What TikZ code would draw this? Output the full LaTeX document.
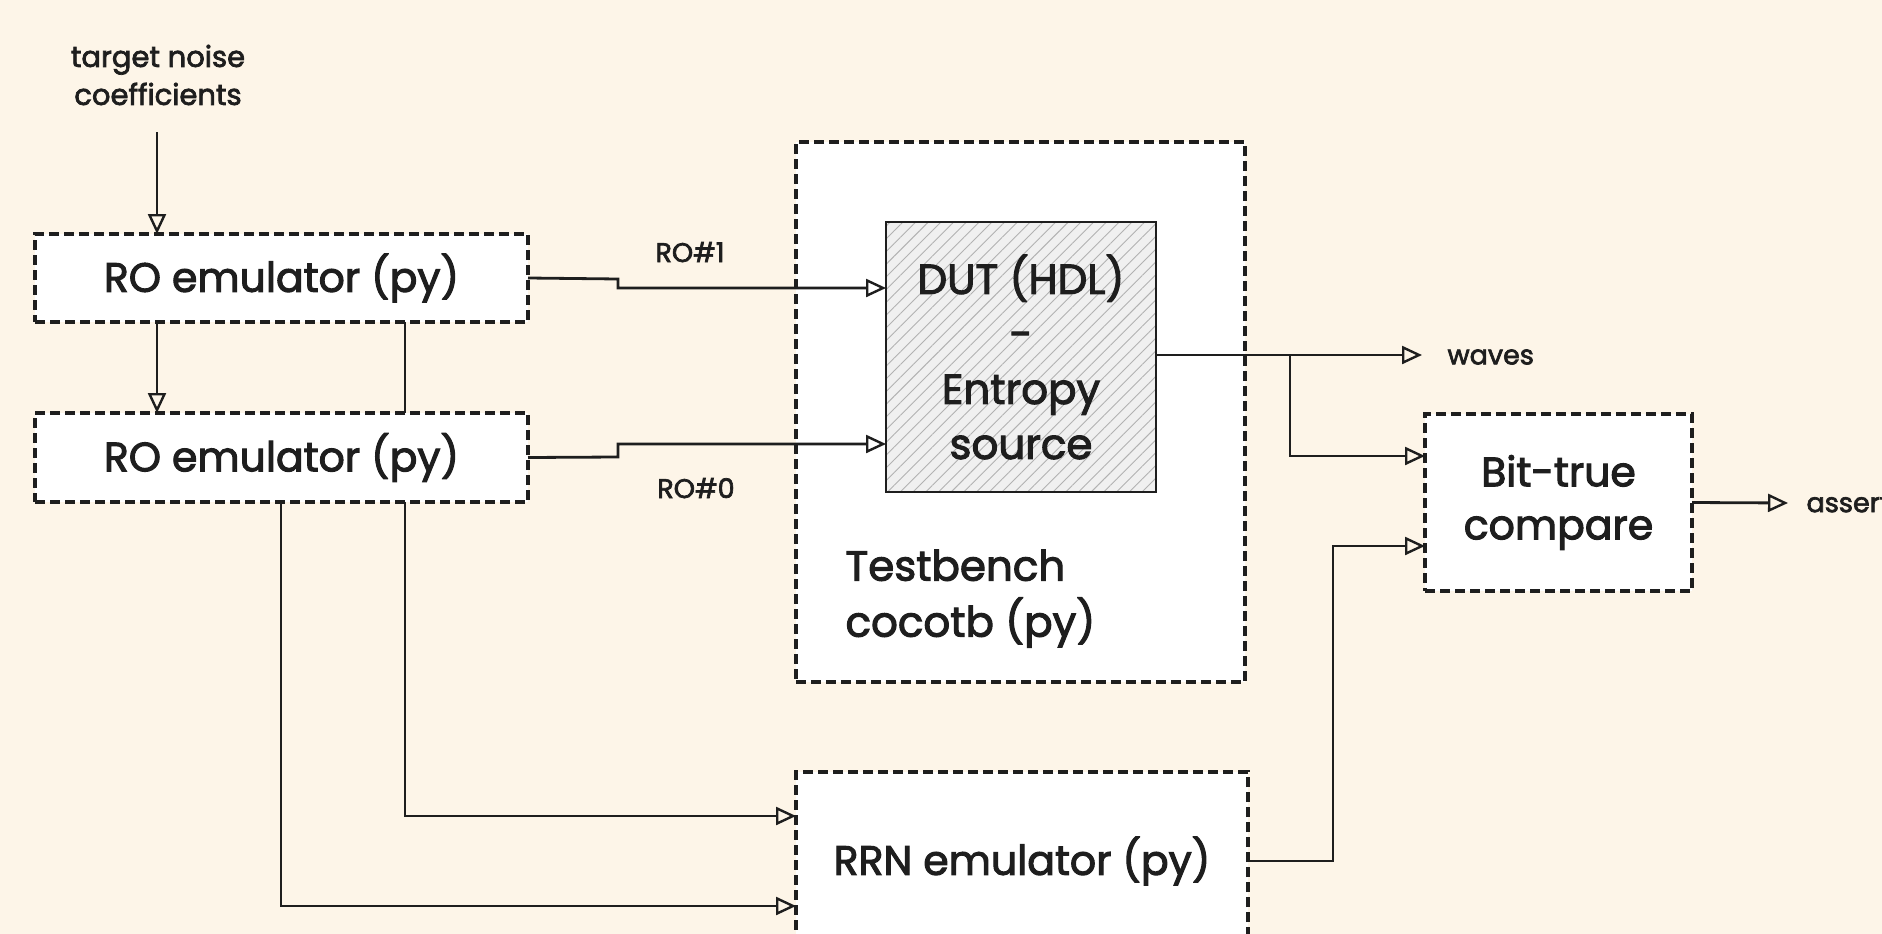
\documentclass[tikz,border=0pt]{standalone}
\usepackage{fontspec}
\setmainfont{Poppins}
\newfontfamily\skfont{Poppins}[FakeBold=2.5]
\usetikzlibrary{arrows.meta,patterns.meta}
\definecolor{paper}{HTML}{FDF5E8}
\definecolor{ink}{HTML}{1E1E1E}
\pgfdeclarelayer{bg}
\pgfdeclarelayer{back}
\pgfsetlayers{bg,back,main}
\begin{document}
\begin{tikzpicture}[x=1pt,y=-1pt,
  box/.style={draw=ink, line width=3.2pt, dash pattern=on 10pt off 5pt, fill=white, inner sep=0pt, outer sep=0pt},
  conn/.style={draw=ink, line width=2.8pt, -{Triangle[open,length=20pt,width=18pt,line width=2.4pt]}},
  plain/.style={draw=ink, line width=2.8pt},
  big/.style={font=\skfont\fontsize{41}{55}\selectfont, text=ink},
  small/.style={font=\skfont\fontsize{27}{38}\selectfont, text=ink}]
\useasboundingbox (0,0) rectangle (1882,934);
\begin{pgfonlayer}{bg}
  \fill[paper] (0,0) rectangle (1882,934);
  \node[box, minimum width=449pt, minimum height=540pt] (tb) at (1020.5,412) {};
  \node[big, anchor=north west, align=left, font=\skfont\fontsize{42}{56}\selectfont] (tbtext) at (842,546) {Testbench\\cocotb (py)};
\end{pgfonlayer}

% nodes
\node[small, align=center, font=\skfont\fontsize{29}{38}\selectfont] (tnc) at (158,75) {target noise\\coefficients};
\coordinate (tncend) at (157,132);
\node[box, minimum width=493pt, minimum height=88pt, big] (ro1) at (281.5,278) {RO emulator (py)};
\node[box, minimum width=493pt, minimum height=89pt, big] (ro0) at (281.5,457.5) {RO emulator (py)};
\node[draw=ink, line width=2.8pt, minimum width=270pt, minimum height=270pt, inner sep=0pt, outer sep=0pt,
      preaction={fill=gray!12},
      pattern={Lines[angle=45, distance=9pt, line width=0.9pt]}, pattern color=gray!60,
      big, align=center, font=\skfont\fontsize{42}{55}\selectfont] (dut) at (1021,357) {DUT (HDL)\\-\\Entropy\\source};
\node[box, minimum width=267pt, minimum height=177pt, big, align=center, font=\skfont\fontsize{41}{53}\selectfont] (bit) at (1558.5,502.5) {Bit-true\\compare};
\node[box, minimum width=452pt, minimum height=178pt, big] (rrn) at (1022,861) {RRN emulator (py)};

\node[small, anchor=base] (l1) at (690,262) {RO\#1};
\node[small, anchor=base] (l0) at (696,498) {RO\#0};
\node[small, anchor=west] (waves) at (1444,357) {waves};
\node[small, anchor=west] (assert) at (1803,503) {assert};
\coordinate (wend) at (1422,355);
\coordinate (aend) at (1788,503);

% connectors
\draw[conn] (tncend) -- (ro1.north -| tncend);
\draw[conn] (ro1.south -| tncend) -- (ro0.north -| tncend);
\draw[conn] (ro1.east) -- (618,279) -- (618,288) -- (dut.west |- 0,288);
\draw[conn] (ro0.east) -- (618,457) -- (618,444) -- (dut.west |- 0,444);
\draw[plain] (dut.east |- 0,355) -- (1290,355);
\draw[conn] (1290,355) -- (wend);
\draw[conn] (1290,355) -- (1290,456) -- (bit.west |- 0,456);
\draw[conn] (bit.east) -- (aend);
\draw[conn] (rrn.east) -- (1333,861) -- (1333,546) -- (bit.west |- 0,546);
\begin{pgfonlayer}{back}
  \draw[conn] (ro1.south -| 405,0) -- (405,816) -- (rrn.west |- 0,816);
  \draw[conn] (ro0.south -| 281,0) -- (281,906) -- (rrn.west |- 0,906);
\end{pgfonlayer}
\end{tikzpicture}
\end{document}
